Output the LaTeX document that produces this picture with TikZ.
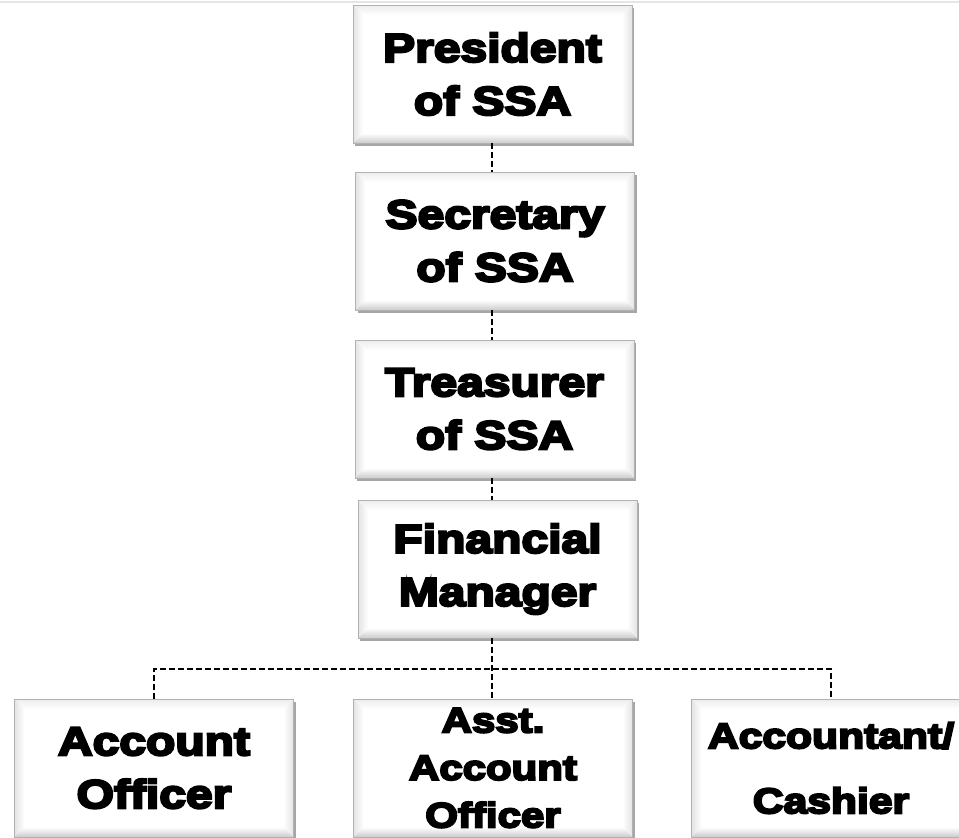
\documentclass[tikz,border=0pt]{standalone}
\usepackage{fontspec}
\newfontfamily\blk[FakeBold=6,FakeStretch=1.2]{Liberation Sans Bold}
\usetikzlibrary{shadows}
\tikzset{
  bevbox/.style={draw=gray!60, line width=0.9pt, fill=white,
    minimum width=279pt, minimum height=138pt, inner sep=0pt, align=center,
    drop shadow={shadow xshift=2pt, shadow yshift=-3pt, opacity=0.35, fill=black},
    path picture={
      \coordinate (pSW) at (path picture bounding box.south west);
      \coordinate (pNE) at (path picture bounding box.north east);
      \coordinate (pNW) at (pSW |- pNE);
      \coordinate (pSE) at (pNE |- pSW);
      \shade[left color=gray!22, right color=white] (pSW) -- (pNW) -- ([shift={(10pt,-10pt)}]pNW) -- ([shift={(10pt,10pt)}]pSW) -- cycle;
      \shade[left color=white, right color=gray!22] (pSE) -- (pNE) -- ([shift={(-10pt,-10pt)}]pNE) -- ([shift={(-10pt,10pt)}]pSE) -- cycle;
      \shade[top color=white, bottom color=gray!40] (pSW) -- (pSE) -- ([shift={(-10pt,10pt)}]pSE) -- ([shift={(10pt,10pt)}]pSW) -- cycle;
      \shade[top color=gray!15, bottom color=white] (pNW) -- (pNE) -- ([shift={(-10pt,-10pt)}]pNE) -- ([shift={(10pt,-10pt)}]pNW) -- cycle;
    }},
  toptext/.style={font=\blk\fontsize{40}{53}\selectfont},
  conn/.style={draw=black, line width=2.6pt, dash pattern=on 6pt off 3pt}
}
\begin{document}
\begin{tikzpicture}[x=1pt,y=1pt]
\useasboundingbox (0,0) rectangle (959,-838);
\clip (0,0) rectangle (959,-838);
\fill[white] (0,0) rectangle (959,-838);
\draw[gray!20, line width=2pt] (0,-1.5) -- (959,-1.5);

\node[bevbox, toptext] (pres) at (492.5,-74) {President\\of SSA};
\node[bevbox, toptext] (sec) at (495,-241) {Secretary\\of SSA};
\node[bevbox, toptext] (treas) at (494.5,-409) {Treasurer\\of SSA};
\node[bevbox, toptext] (fm) at (497.5,-569) {Financial\\Manager};
\node[bevbox, toptext] (ao) at (154,-768) {Account\\Officer};
\node[bevbox, font=\blk\fontsize{35}{47.5}\selectfont] (asst) at (493,-768) {Asst.\\Account\\Officer};
\node[bevbox, font=\blk\fontsize{35.5}{65}\selectfont] (acc) at (831,-768) {Accountant/\\Cashier};

\coordinate (spine) at (492,0);
\coordinate (bus) at (0,-669);
\draw[conn] (pres.south -| spine) -- (sec.north -| spine);
\draw[conn] (sec.south -| spine) -- (treas.north -| spine);
\draw[conn] (treas.south -| spine) -- (fm.north -| spine);
\draw[conn] (fm.south -| spine) -- (asst.north -| spine);
\draw[conn, line width=2pt] (ao.north) -- (ao.north |- bus) -- (acc.north |- bus) -- (acc.north);
\end{tikzpicture}
\end{document}
